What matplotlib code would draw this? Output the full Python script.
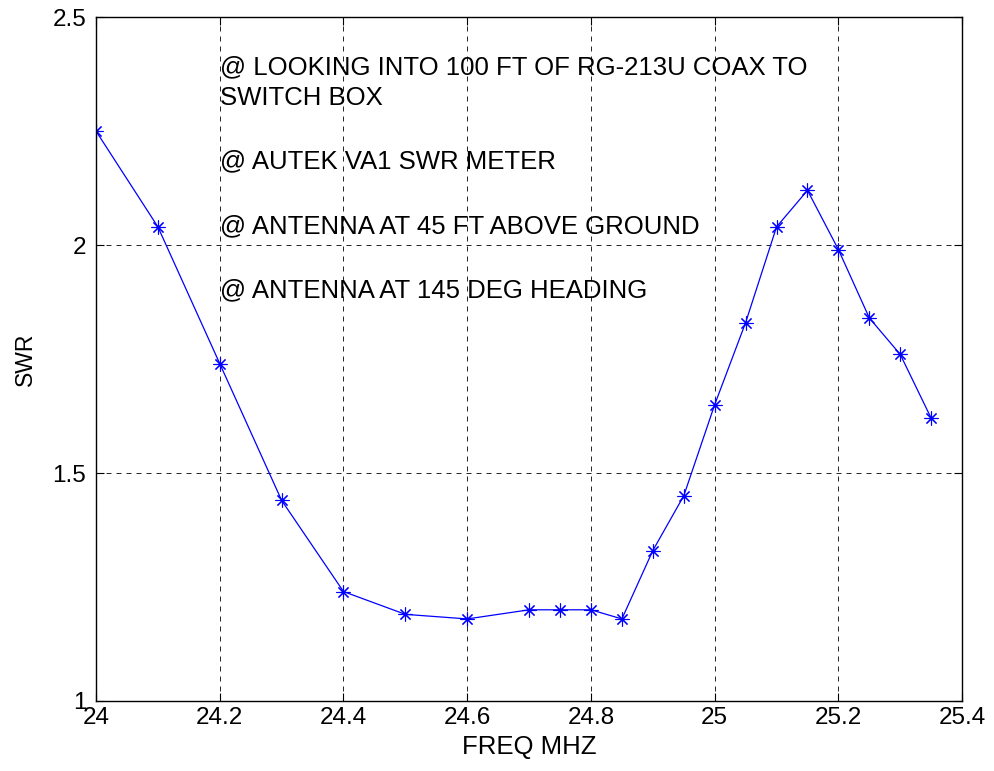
import matplotlib
matplotlib.use("Agg")
from matplotlib import pyplot as plt

plt.rcParams['font.family'] = ['Liberation Sans', 'DejaVu Sans']

freq = [24.0, 24.1, 24.2, 24.3, 24.4, 24.5, 24.6, 24.7, 24.75, 24.8, 24.85,
        24.9, 24.95, 25.0, 25.05, 25.1, 25.15, 25.2, 25.25, 25.3, 25.35]
swr = [2.25, 2.04, 1.74, 1.44, 1.24, 1.19, 1.18, 1.20, 1.20, 1.20, 1.18,
       1.33, 1.45, 1.65, 1.83, 2.04, 2.12, 1.99, 1.84, 1.76, 1.62]

xticks = [24, 24.2, 24.4, 24.6, 24.8, 25, 25.2, 25.4]
xtick_labels = ['24', '24.2', '24.4', '24.6', '24.8', '25', '25.2', '25.4']
yticks = [1, 1.5, 2, 2.5]
ytick_labels = ['1', '1.5', '2', '2.5']

notes = ['@ LOOKING INTO 100 FT OF RG-213U COAX TO\nSWITCH BOX',
         '@ AUTEK VA1 SWR METER',
         '@ ANTENNA AT 45 FT ABOVE GROUND',
         '@ ANTENNA AT 145 DEG HEADING']
note_y = [2.357, 2.184, 2.041, 1.90]

fig = plt.figure(figsize=(9.95, 7.71), dpi=100)
ax = fig.add_axes([0.0965, 0.0908, 0.8705, 0.887])

# matlab style '*' marker -> 8 armed asterisk
ax.plot(freq, swr, color=(0, 0, 1), linewidth=0.9, marker=(8, 2, 0),
        markersize=10, markeredgewidth=0.8, markeredgecolor=(0, 0, 1))

for txt, yy in zip(notes, note_y):
    ax.text(24.2, yy, txt, fontsize=18.5, va='center', ha='left',
            linespacing=1.35, color='black')

ax.set_xlim(24, 25.4)
ax.set_ylim(1, 2.5)
ax.set_xticks(xticks)
ax.set_xticklabels(xtick_labels)
ax.set_yticks(yticks)
ax.set_yticklabels(ytick_labels)
ax.tick_params(direction='in', length=6, width=0.8, labelsize=17.5,
               top=True, right=True, pad=4)
ax.tick_params(axis='y', pad=7)
ax.grid(True, color='black', linestyle=(0, (6, 6)), linewidth=0.6)
for s in ax.spines.values():
    s.set_linewidth(1.0)

ax.set_xlabel('FREQ MHZ', fontsize=18.5, labelpad=5)
ax.set_ylabel('SWR', fontsize=16.5, labelpad=11)

fig.savefig('out.png', dpi=100)
